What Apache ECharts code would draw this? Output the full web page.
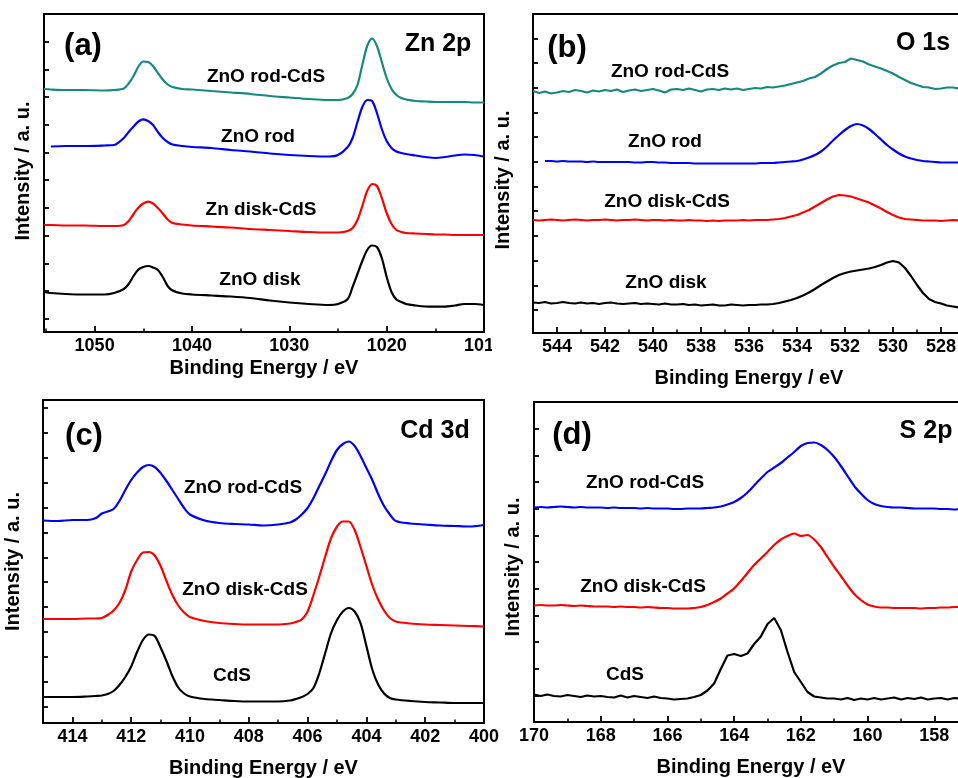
<!DOCTYPE html>
<html>
<head>
<meta charset="utf-8">
<script src="https://cdn.jsdelivr.net/npm/echarts@6.0.0/dist/echarts.min.js"></script>
<style>
html,body{margin:0;padding:0;background:#fff;}
#chart{width:958px;height:778px;}
</style>
</head>
<body>
<div id="chart"></div>
<script>
// ---------- Panel (a): Zn 2p ----------
const E_a = [1055.2, 1054.5, 1053, 1051, 1049, 1048, 1047, 1046.5, 1046, 1045.5, 1045, 1044.5, 1044, 1043.5, 1043, 1042.5, 1042, 1041, 1040, 1038, 1036, 1034, 1032, 1030, 1028, 1026, 1025, 1024, 1023.5, 1023, 1022.5, 1022, 1021.5, 1021, 1020.5, 1020, 1019.5, 1019, 1018.5, 1018, 1017, 1016, 1015, 1014, 1013, 1012, 1011, 1010];
const a_rodCdS = [243, 242.5, 242, 242, 241.5, 242, 243.5, 248.5, 256, 265.5, 270.5, 270, 266, 259, 252.5, 247.5, 245, 243, 242.5, 241, 239.5, 238, 236, 234.5, 233, 232, 232, 234, 238, 247, 267, 286, 293.5, 286, 270, 254, 243, 237, 234, 232.5, 231, 230.5, 230, 230, 230, 230, 229.5, 229.5];
const a_rod = [null, 185.5, 186, 186, 186.5, 187, 194, 200, 205.5, 210.5, 212.7, 211, 207, 200, 194, 190, 187.5, 186, 185, 184, 182, 180.5, 178.5, 177, 176, 175.5, 177, 185, 194, 210, 225, 232, 231, 219, 203, 191, 184, 180.5, 179, 178, 176.5, 175, 174, 175, 176.5, 177.5, 177, 175.5];
const a_diskCdS = [107, 107, 106.5, 106.5, 106, 106, 107, 111, 118, 124.5, 128.5, 130.3, 128.5, 124, 118.5, 112.5, 109, 107.5, 106.5, 105.5, 104.5, 103, 102, 101, 100, 99.5, 99.5, 101, 104, 112, 126, 141, 148, 146, 134, 119, 108, 102, 100, 99, 98.5, 98, 97.5, 97.5, 97, 97, 97, 97];
const a_disk = [40, 39, 38, 37.5, 37.5, 39, 43, 48, 56, 62.5, 65, 66, 64.5, 62, 55, 46, 41.5, 38.5, 37.5, 36.5, 35.5, 34, 31.5, 29.5, 28, 27, 28, 33, 45, 58, 71, 82, 86.5, 85, 74, 55, 40, 32.5, 30, 28, 26.5, 25.5, 25.3, 25.3, 26.5, 28, 28, 27];
const a_labels = ['ZnO rod-CdS', 'ZnO rod', 'Zn disk-CdS', 'ZnO disk'];
const yTicksA = [13.3, 41, 68.7, 96.4, 124.1, 151.8, 179.5, 207.2, 234.9, 262.6, 290.3];

// ---------- Panel (b): O 1s ----------
const E_b = [545, 544.75, 544.5, 544.25, 544, 543.75, 543.5, 543.25, 543, 542.75, 542.5, 542.25, 542, 541.75, 541.5, 541.25, 541, 540.75, 540.5, 540.25, 540, 539.75, 539.5, 539.25, 539, 538.75, 538.5, 538.25, 538, 537.75, 537.5, 537.25, 537, 536.75, 536.5, 536.25, 536, 535.75, 535.5, 535.25, 535, 534.75, 534.5, 534.25, 534, 533.75, 533.5, 533.25, 533, 532.75, 532.5, 532.25, 532, 531.75, 531.5, 531.25, 531, 530.75, 530.5, 530.25, 530, 529.75, 529.5, 529.25, 529, 528.75, 528.5, 528.25, 528, 527.75, 527.5, 527.25];
const b_rodCdS = [242, 240, 241.5, 239.5, 240.5, 242, 241, 243, 242, 240.5, 242.5, 241.5, 243, 242, 243.5, 241, 242.5, 243.5, 242, 243, 244, 242.5, 240.5, 243.5, 244, 243, 244.5, 243, 241.5, 243.5, 244, 243, 244.5, 243.5, 244.5, 243, 244, 245, 244.5, 246, 245.5, 246.5, 247.5, 249, 250.5, 252, 254.5, 256, 259.5, 264, 267.5, 270, 271, 274.5, 273, 271.5, 268.5, 266.5, 264.5, 262, 259.5, 256, 253, 250, 248, 246, 245.5, 244, 244.5, 245.5, 245.5, 244.5];
const b_rod = [null, null, 172, 172, 171.5, 172, 171.5, 171.5, 171.5, 171, 171.5, 171, 171, 171, 171, 171, 171, 170.5, 170.5, 171, 171, 170.5, 170.5, 170, 170, 170, 170, 169.5, 169.5, 169.5, 169.5, 169.5, 169.5, 169.5, 169.5, 169.5, 169.5, 169.5, 170, 170, 170, 170.5, 171, 171.5, 172, 173.5, 175.5, 178, 181.5, 186.5, 192.5, 198, 203, 207, 209, 207.5, 204, 199, 193.5, 188, 183.5, 179.5, 176.5, 174.5, 173, 172, 171.5, 171, 170.5, 170.5, 170.5, 170.5];
const b_diskCdS = [113, 112.5, 113, 113.5, 113, 112.5, 113, 113.5, 113, 112.5, 113, 113, 113.5, 113, 112.5, 113, 113, 113.5, 113, 112.5, 113, 113, 112.5, 113, 112.5, 112.5, 113, 112.5, 112.5, 112, 112.5, 112, 112.5, 112.5, 112.5, 113, 112.5, 113, 113, 113, 113.5, 114, 115, 116.5, 118, 120.5, 123, 126.5, 130, 133.5, 136.5, 138, 137.5, 136.5, 134.5, 132.5, 130.5, 127.5, 124.5, 121, 118, 115.5, 114, 113.5, 113, 112.5, 112.5, 112.5, 112, 112.5, 113, 112.5];
const b_disk = [30.5, 30, 31, 29.5, 30, 31, 30, 29.5, 30.5, 29.5, 30, 29, 30, 30.5, 29.5, 29, 29.5, 30, 29, 29.5, 29, 28.5, 29.5, 28.5, 28.5, 29, 28, 28.5, 27.5, 28, 28.5, 27.5, 27.5, 28.5, 28, 27.5, 28, 28, 28.5, 28.5, 29, 30, 31.5, 33, 35, 37.5, 40.5, 44, 48, 51.5, 55, 58, 60, 61.5, 62.5, 63.5, 64.5, 66, 68, 70.5, 72, 70.5, 65, 57, 48, 40, 34, 31, 29.5, 27.5, 26.5, 25.5];
const b_labels = ['ZnO rod-CdS', 'ZnO rod', 'ZnO disk-CdS', 'ZnO disk'];
const yTicksB = [23, 47.7, 72.4, 97.1, 121.8, 146.5, 171.2, 195.9, 220.6, 245.3, 270, 294.7];

// ---------- Panel (c): Cd 3d ----------
const E_c = [415, 414.5, 414, 413.5, 413.2, 413, 412.8, 412.6, 412.4, 412.2, 412, 411.8, 411.6, 411.4, 411.2, 411, 410.8, 410.6, 410.4, 410.2, 410, 409.5, 409, 408.5, 408, 407.5, 407, 406.6, 406.4, 406.2, 406, 405.8, 405.6, 405.4, 405.2, 405, 404.8, 404.6, 404.4, 404.2, 404, 403.8, 403.6, 403.4, 403.2, 403, 402.5, 402, 401.5, 401, 400.5, 400];
const c_rodCdS = [202.5, 202, 203, 203, 205, 209.5, 211.5, 214, 222, 233, 243, 250.5, 256, 258, 256, 250, 242, 233, 224, 215, 208.5, 202.5, 200, 199, 198.5, 197.5, 198.5, 200.5, 203.5, 208.5, 215, 225, 237, 249, 262, 273, 279, 281.5, 277, 267, 255, 243, 229, 217, 208.5, 202, 199.5, 198.5, 197.5, 197, 196.5, 198];
const c_diskCdS = [104, 104, 104, 104.5, 104.5, 105, 108, 112.5, 120, 133, 151.5, 163, 170.5, 171, 167.5, 157, 142, 128, 117.5, 110.5, 106, 102, 100, 99, 98.5, 98.5, 98.5, 99.5, 101, 103.5, 111.5, 128, 146.5, 166.5, 185, 196.5, 201.5, 201.5, 193, 176, 157, 138, 123.5, 112.5, 105, 101.5, 99.5, 98.5, 98, 97.5, 97, 96.5];
const c_CdS = [26, 26, 26, 26.5, 27, 27.5, 29, 32, 38, 46, 56.5, 71, 83, 88.5, 87, 75.5, 62, 47, 35.5, 29.5, 26.5, 24, 23, 22, 21.5, 21.5, 21.5, 22.5, 24, 26, 29, 35, 50, 70, 90, 103, 111.5, 115, 111.5, 100, 77, 53.5, 38.5, 29.5, 25, 23.5, 22, 21, 20.5, 20, 20, 20];
const c_labels = ['ZnO rod-CdS', 'ZnO disk-CdS', 'CdS'];
const yTicksC = [16.6, 41.5, 66.3, 91.2, 116, 140.9, 165.7, 190.6, 215.4, 240.3, 265.1, 290, 314.8];

// ---------- Panel (d): S 2p ----------
const E_d = [170, 169.8, 169.6, 169.4, 169.2, 169, 168.8, 168.6, 168.4, 168.2, 168, 167.8, 167.6, 167.4, 167.2, 167, 166.8, 166.6, 166.4, 166.2, 166, 165.8, 165.6, 165.4, 165.2, 165, 164.8, 164.6, 164.4, 164.2, 164, 163.8, 163.6, 163.4, 163.2, 163, 162.8, 162.6, 162.4, 162.2, 162, 161.8, 161.6, 161.4, 161.2, 161, 160.8, 160.6, 160.4, 160.2, 160, 159.8, 159.6, 159.4, 159.2, 159, 158.8, 158.6, 158.4, 158.2, 158, 157.8, 157.6, 157.4, 157.2, 157, 156.8, 156.6];
const d_rodCdS = [214.5, 215, 214.5, 215, 215.5, 215, 214.5, 215, 214.5, 214.5, 214.5, 214, 214.5, 214, 214, 214, 213.5, 214, 213.5, 213.5, 213.5, 213, 213, 213.5, 213.5, 213.5, 214, 214.5, 215.5, 217.5, 220, 224, 229.5, 236.5, 243.5, 250, 254.5, 259, 264.5, 270, 276, 279, 279.5, 277, 272, 265, 256, 246, 236, 228.5, 222, 218, 216, 215, 214.5, 214.5, 214, 213.5, 213.5, 213.5, 213.5, 213, 213, 212.5, 213, 213, 212.5, 213];
const d_diskCdS = [116.5, 117, 116.5, 116.5, 117, 116.5, 116, 116.5, 116, 115.5, 115.5, 115.5, 115, 115.5, 115, 115, 114.5, 115, 114.5, 114, 114, 113.5, 113.5, 113.5, 114, 115, 117, 120, 123.5, 128.5, 133.5, 141, 149, 157, 163.5, 170, 177, 182.5, 186, 188.5, 186, 187, 182.5, 175, 165, 155, 146, 136.5, 128, 122, 117.5, 115.5, 114.5, 114.5, 114, 114, 114, 114, 113.5, 114, 114, 114.5, 114.5, 115, 115, 114.5, 115, 114.5];
const d_CdS = [27.5, 26, 27.5, 26, 25.5, 27, 26, 25, 26.5, 25.5, 26, 25, 24.5, 26.5, 24.5, 26, 25, 24, 25.5, 24, 23.5, 22.5, 23, 23.5, 25, 27, 31.5, 38.5, 53, 66.5, 68, 66, 68.5, 78, 85.5, 98, 104, 92, 70, 50, 40, 30, 25.5, 24.5, 23.5, 23.5, 22.5, 24, 22, 23.5, 22.5, 24, 22.5, 23.5, 24.5, 22.5, 24, 23, 24.5, 22.5, 23.5, 24, 22.5, 24, 23.5, 24, 22.5, 23.5];
const d_labels = ['ZnO rod-CdS', 'ZnO disk-CdS', 'CdS'];
const yTicksD = [26.7, 53.3, 80, 106.7, 133.3, 160, 186.7, 213.3, 240, 266.7, 293.3];

const panelTags = ['(a)', '(b)', '(c)', '(d)'];
const panelElements = ['Zn 2p', 'O 1s', 'Cd 3d', 'S 2p'];
const xTitle = 'Binding Energy / eV';
const yTitle = 'Intensity / a. u.';

const TEAL = '#16897f', BLUE = '#0000ff', RED = '#ff0000', BLACK = '#000000';
const FONT = '"Liberation Sans", Arial, Helvetica, sans-serif';

function pairs(xs, ys) {
  const out = [];
  for (let i = 0; i < xs.length; i++) if (ys[i] != null) out.push([xs[i], ys[i]]);
  return out;
}

const grids = [
  {left: 44, top: 14, width: 440, height: 318},
  {left: 533, top: 14, width: 456, height: 319},
  {left: 43, top: 400, width: 441, height: 323},
  {left: 534, top: 402, width: 467, height: 320}
].map(g => Object.assign({show: true, borderColor: '#000', borderWidth: 2, backgroundColor: 'transparent',
  containLabel: false, outerBoundsMode: 'none'}, g));

function xAx(i, min, max, interval, showMax, nameGap, namePad) {
  return {
    type: 'value', gridIndex: i, inverse: true, min: min, max: max, interval: interval,
    axisLine: {show: true, onZero: false, lineStyle: {color: '#000', width: 2}},
    axisTick: {show: true, inside: true, length: 6, lineStyle: {color: '#000', width: 1.8}},
    minorTick: {show: true, splitNumber: 2, length: 3.5, lineStyle: {color: '#000', width: 1.5}},
    splitLine: {show: false}, minorSplitLine: {show: false},
    axisLabel: {color: '#000', fontSize: 18, fontWeight: 'bold', fontFamily: FONT, margin: 5,
      showMaxLabel: showMax, showMinLabel: true, hideOverlap: false,
      formatter: function (v) { return String(v); }},
    name: xTitle, nameLocation: 'middle', nameGap: nameGap,
    nameTextStyle: {color: '#000', fontSize: 20, fontWeight: 'bold', fontFamily: FONT, padding: namePad}
  };
}
function yAx(i, max, ticks, nameGap, namePad) {
  return {
    type: 'value', gridIndex: i, min: 0, max: max,
    axisLine: {show: true, onZero: false, lineStyle: {color: '#000', width: 2}},
    axisTick: {show: true, inside: true, length: 5, customValues: ticks, lineStyle: {color: '#000', width: 1.8}},
    axisLabel: {show: false},
    splitLine: {show: false},
    name: yTitle, nameLocation: 'middle', nameGap: nameGap,
    nameTextStyle: {color: '#000', fontSize: 20, fontWeight: 'bold', fontFamily: FONT, padding: namePad}
  };
}

const xAxes = [
  xAx(0, 1010, 1055.2, 10, false, 26, [0, 0, 0, 0]),
  xAx(1, 526, 545, 2, false, 35, [0, 24, 0, 0]),
  xAx(2, 400, 415, 2, false, 35, [0, 0, 0, 0]),
  xAx(3, 156, 170, 2, true, 35, [0, 33, 0, 0])
];
const yAxes = [
  yAx(0, 318, yTicksA, 11, [0, 0, 0, 4]),
  yAx(1, 319, yTicksB, 20, [0, 13, 0, 0]),
  yAx(2, 323, yTicksC, 20, [0, 0, 0, 0]),
  yAx(3, 320, yTicksD, 11, [0, 10, 0, 0])
];

function line(name, idx, xs, ys, color, smooth) {
  return {
    name: name, type: 'line', xAxisIndex: idx, yAxisIndex: idx,
    data: pairs(xs, ys), showSymbol: false, symbol: 'none', smooth: smooth,
    lineStyle: {color: color, width: 2.2}, itemStyle: {color: color},
    silent: true, animation: false
  };
}

const series = [
  line(a_labels[0], 0, E_a, a_rodCdS, TEAL, 0.3),
  line(a_labels[1], 0, E_a, a_rod, BLUE, 0.3),
  line(a_labels[2], 0, E_a, a_diskCdS, RED, 0.3),
  line(a_labels[3], 0, E_a, a_disk, BLACK, 0.3),
  line(b_labels[0], 1, E_b, b_rodCdS, TEAL, false),
  line(b_labels[1], 1, E_b, b_rod, BLUE, 0.2),
  line(b_labels[2], 1, E_b, b_diskCdS, RED, false),
  line(b_labels[3], 1, E_b, b_disk, BLACK, false),
  line(c_labels[0], 2, E_c, c_rodCdS, BLUE, 0.3),
  line(c_labels[1], 2, E_c, c_diskCdS, RED, 0.3),
  line(c_labels[2], 2, E_c, c_CdS, BLACK, 0.3),
  line(d_labels[0], 3, E_d, d_rodCdS, BLUE, 0.2),
  line(d_labels[1], 3, E_d, d_diskCdS, RED, 0.2),
  line(d_labels[2], 3, E_d, d_CdS, BLACK, false)
];

function txt(t, x, y, size) {
  return {
    type: 'text', x: x, y: y, z: 100, silent: true,
    style: {text: t, fill: '#000', font: 'bold ' + size + 'px ' + FONT,
      align: 'center', verticalAlign: 'middle', textAlign: 'center', textVerticalAlign: 'middle'}
  };
}

const graphics = [
  // mask clipping the last digit of the (a) panel's right-edge tick label, as in the source figure
  {type: 'rect', shape: {x: 492, y: 334, width: 16, height: 24}, style: {fill: '#fff'}, z: 200, silent: true},
  txt(panelTags[0], 83, 46, 31), txt(panelElements[0], 438, 44, 25),
  txt(a_labels[0], 266, 77, 19), txt(a_labels[1], 258, 137, 19), txt(a_labels[2], 261, 210, 19), txt(a_labels[3], 260, 280, 19),
  txt(panelTags[1], 567, 48, 31), txt(panelElements[1], 923, 43, 25),
  txt(b_labels[0], 670, 72, 19), txt(b_labels[1], 665, 142, 19), txt(b_labels[2], 667, 202, 19), txt(b_labels[3], 666, 283, 19),
  txt(panelTags[2], 84, 436, 31), txt(panelElements[2], 435, 431, 25),
  txt(c_labels[0], 243, 488, 19), txt(c_labels[1], 245, 590, 19), txt(c_labels[2], 232, 676, 19),
  txt(panelTags[3], 572, 435, 31), txt(panelElements[3], 926, 431, 25),
  txt(d_labels[0], 645, 483, 19), txt(d_labels[1], 643, 587, 19), txt(d_labels[2], 625, 675, 19)
];

const chart = echarts.init(document.getElementById('chart'), null, {renderer: 'canvas'});
chart.setOption({
  animation: false,
  backgroundColor: '#ffffff',
  grid: grids,
  xAxis: xAxes,
  yAxis: yAxes,
  series: series,
  graphic: graphics
});
</script>
</body>
</html>
